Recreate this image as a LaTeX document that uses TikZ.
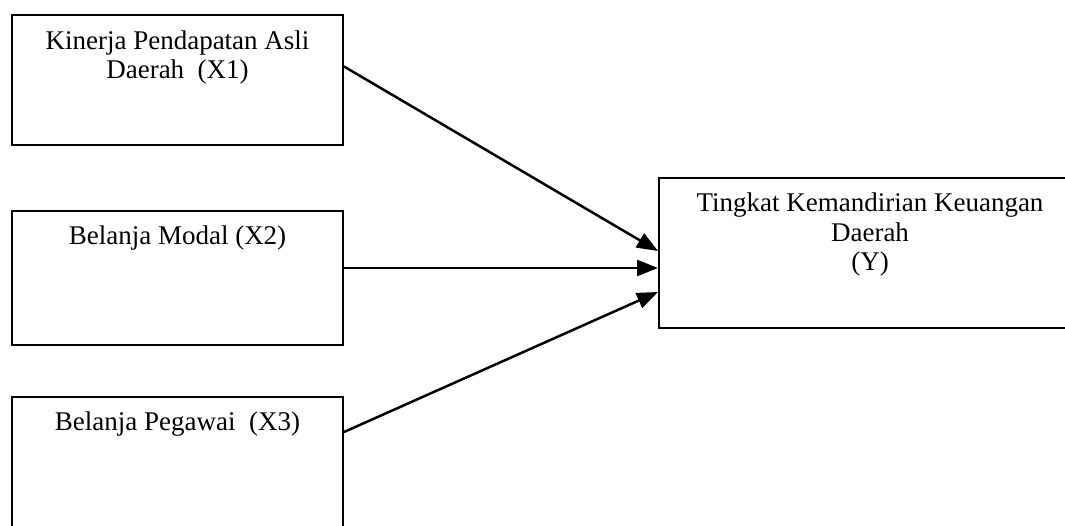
\documentclass[tikz,border=0pt]{standalone}
\usepackage{fontspec}
\setmainfont{Liberation Serif}
\usetikzlibrary{arrows.meta,positioning}
\tikzset{%
  every box/.style={
    draw,
    line width=2pt,
    minimum width=331pt,
    inner sep=0pt
  },
  box text/.style={
    align=center,
    anchor=north,
    inner sep=0pt,
    font=\fontsize{27}{29.5}\selectfont
  }
 }

\begin{document}
\begin{tikzpicture}[x=1pt, y=-1pt, >={Triangle[length=21pt,width=16pt]}]

\clip (0,0) rectangle (1065,526);

\node [every box, minimum height=130pt] (x1) at (177.5,80.5) {};
\node [every box, minimum height=134pt] (x2) at (177.5,278) {};
\node [every box, minimum height=136pt] (x3) at (177.5,465) {};
\node [every box, minimum width=422pt, minimum height=150pt] (y) at (870,253) {};

\node [box text] (x1-text) at ([yshift=-16pt]x1.north) {Kinerja Pendapatan Asli\\Daerah~~(X1)};
\node [box text] (x2-text) at ([yshift=-16pt]x2.north) {Belanja Modal (X2)};
\node [box text] (x3-text) at ([yshift=-16pt]x3.north) {Belanja Pegawai~~(X3)};
\node [box text] (y-text) at ([yshift=-16pt]y.north) {Tingkat Kemandirian Keuangan\\Daerah\\(Y)};

\foreach \s/\a/\b in {x1/14/2, x2/10/-15, x3/33/-39}
  \draw [->, line width=2.5pt] ([yshift=\a pt]\s.east) -- ([yshift=\b pt]y.west);

\end{tikzpicture}
\end{document}
